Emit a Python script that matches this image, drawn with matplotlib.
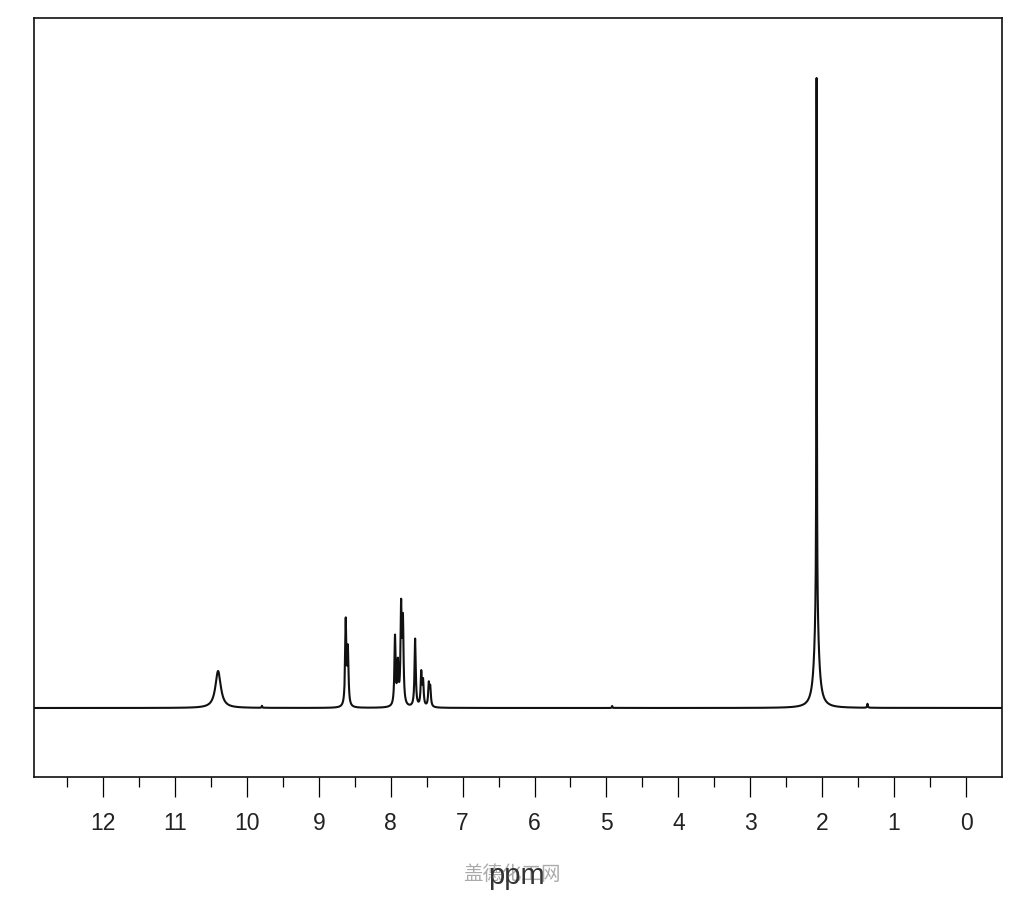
import matplotlib
matplotlib.use('Agg')
import matplotlib.pyplot as plt
import numpy as np

# Peak table (ppm, height above baseline, half width in ppm)
peak_ppm = [10.40, 8.625, 8.595, 7.94, 7.90, 7.855, 7.83, 7.66, 7.575, 7.55, 7.47, 7.45,
            2.078, 2.078, 9.79, 4.92, 1.37]
peak_height = [37, 85, 55, 69, 40, 95, 80, 68, 33, 24, 22, 18,
               535, 95, 2, 2, 4]
peak_width = [0.045, 0.010, 0.010, 0.010, 0.010, 0.010, 0.010, 0.010, 0.010, 0.010, 0.010, 0.010,
              0.004, 0.035, 0.005, 0.005, 0.006]

major_ticks = [12, 11, 10, 9, 8, 7, 6, 5, 4, 3, 2, 1, 0]
minor_ticks = [12.5, 11.5, 10.5, 9.5, 8.5, 7.5, 6.5, 5.5, 4.5, 3.5, 2.5, 1.5, 0.5]

# Spectrum as a sum of Lorentzian lines
x = np.linspace(-0.5, 12.96, 40000)
y = np.zeros_like(x)
for p, h, g in zip(peak_ppm, peak_height, peak_width):
    y += h * g**2 / (g**2 + (x - p)**2)

fig = plt.figure(figsize=(10.24, 9.0), dpi=100)
ax = fig.add_axes([34/1024, 1 - 777/900, 968/1024, 759/900])

ax.plot(x, y, color='#111111', lw=1.5)

ax.set_xlim(12.96, -0.5)
ax.set_ylim(-69, 690)
ax.set_yticks([])
ax.set_xticks(major_ticks)
ax.set_xticks(minor_ticks, minor=True)
ax.set_xticklabels([str(t) for t in major_ticks], family='Liberation Sans', fontsize=16.5, color='#222222')
ax.tick_params(axis='x', which='major', direction='out', length=14.5, width=0.9, pad=11)
ax.tick_params(axis='x', which='minor', direction='out', length=7.5, width=0.9)
for s in ax.spines.values():
    s.set_linewidth(1.2)
    s.set_color('#111111')

# watermark and axis label
fig.text(512/1024, 1 - 875/900, '盖德化工网', family=['Noto Sans CJK SC', 'DejaVu Sans'],
         fontsize=14, color='#aaaaaa', ha='center', va='center')
fig.text(516/1024, 1 - 876/900, 'ppm', family='Liberation Sans', fontsize=21,
         color='#333333', ha='center', va='center')

plt.savefig('out.png', dpi=100)
